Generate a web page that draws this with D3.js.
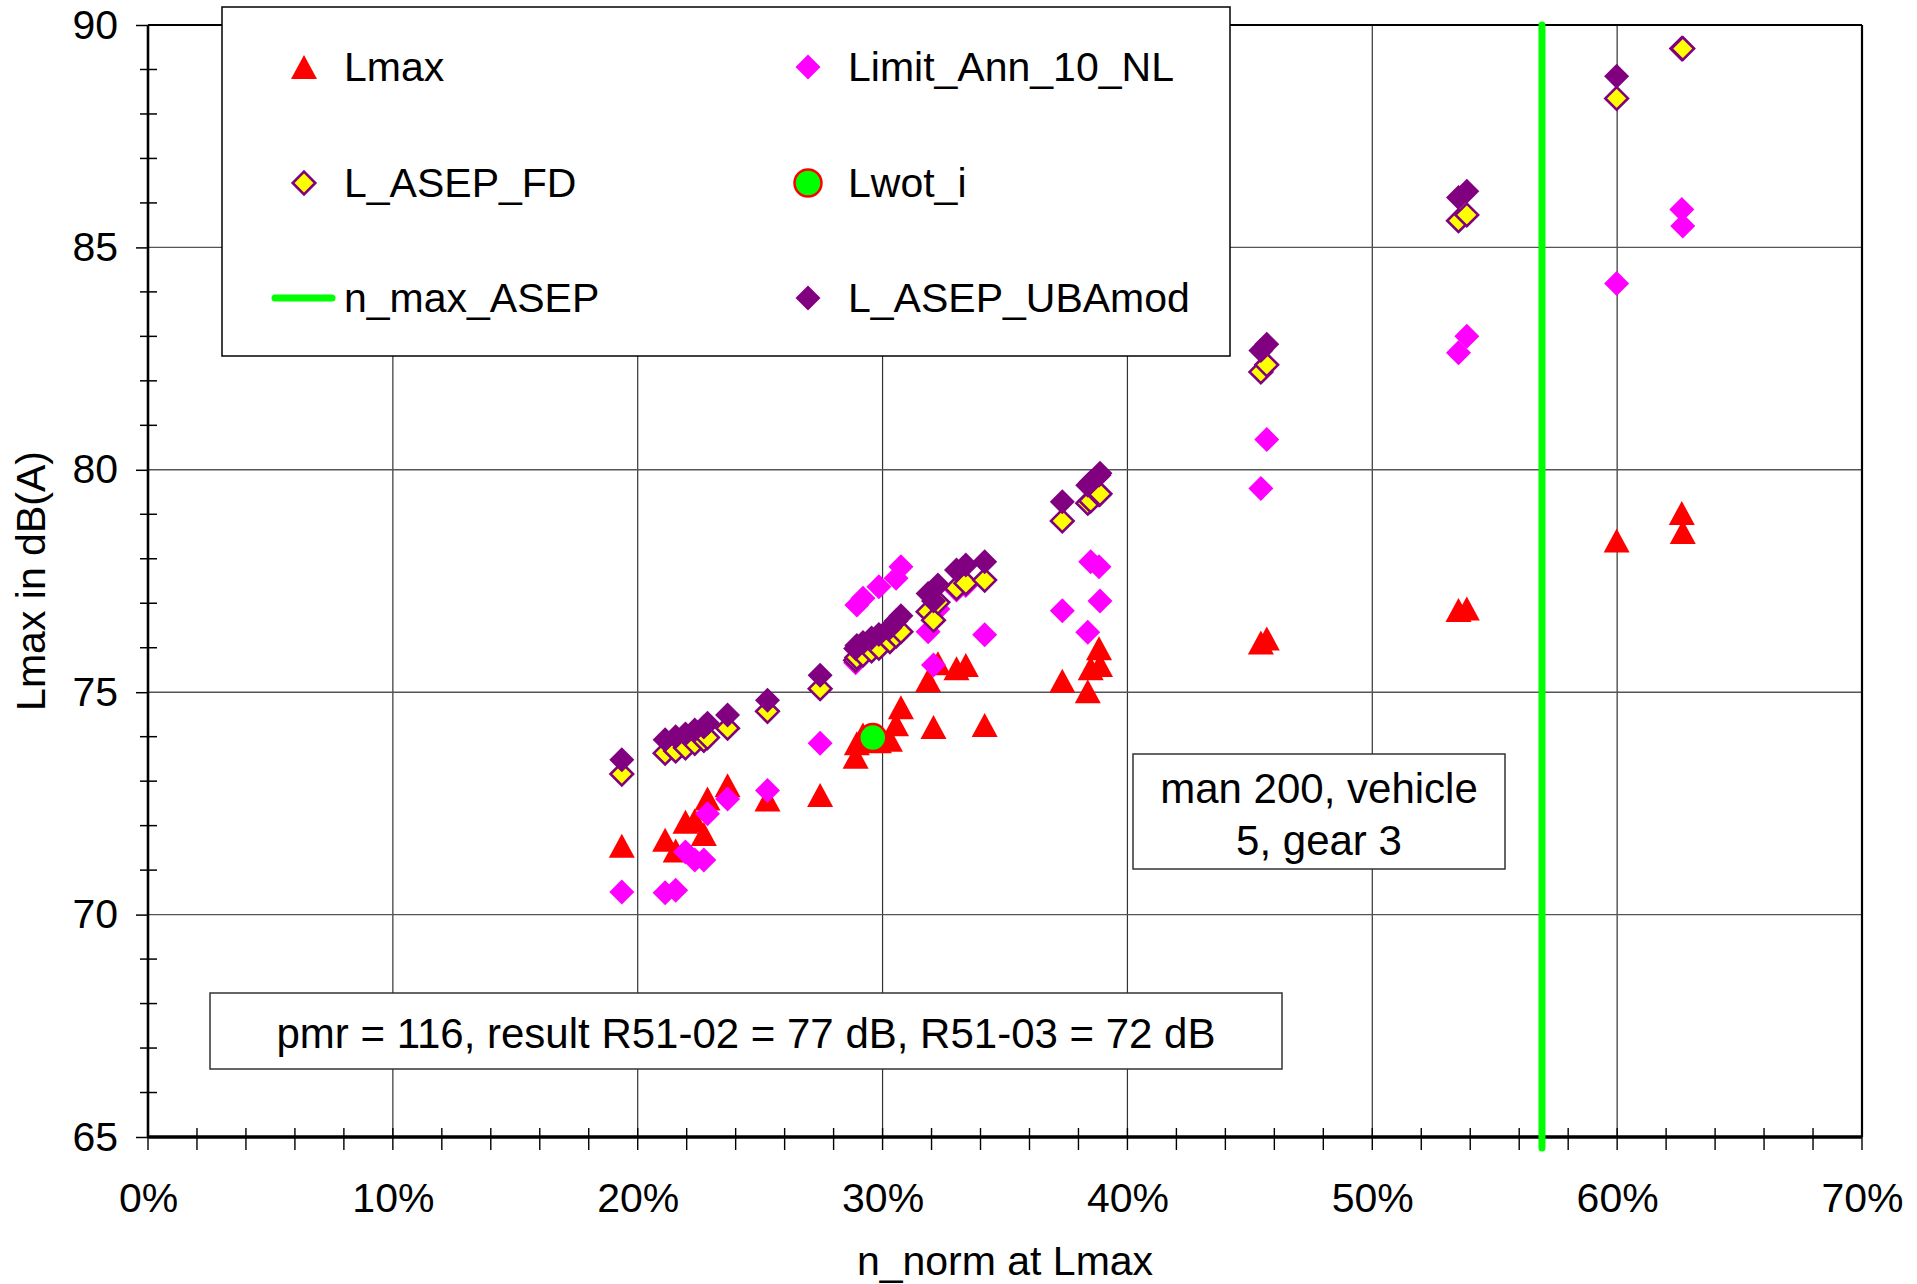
<!DOCTYPE html>
<html>
<head>
    <title>Lmax vs n_norm</title>
    <script src="https://d3js.org/d3.v7.min.js"></script>
    <style>
        body { margin: 0; background: #fff; }
        text { font-family: "Liberation Sans", Arial, sans-serif; }
    </style>
</head>
<body>
    <div id="chart"></div>
    <script>
        // runs: n_norm at Lmax (%), one entry per measurement
        var nNorm = [19.35, 21.12, 21.55, 21.95, 22.33, 22.70, 22.85, 23.67, 25.30, 27.45,
            28.90, 28.95, 29.20, 29.55, 29.85, 30.30, 30.55, 30.75,
            31.86, 32.08, 32.26, 33.02, 33.40, 34.17,
            37.34, 38.38, 38.50, 38.84, 38.88,
            45.45, 45.69, 53.52, 53.86, 59.98, 62.64, 62.68];
        var lmax = [71.55, 71.68, 71.44, 72.09, 72.12, 71.81, 72.61, 72.91, 72.59, 72.69,
            73.55, 73.85, 74.05, 73.95, 73.90, 73.93, 74.28, 74.66,
            75.27, 74.22, 75.65, 75.54, 75.61, 74.26,
            75.26, 75.02, 75.54, 75.99, 75.61,
            76.12, 76.21, 76.85, 76.88, 78.41, 79.03, 78.60];
        var limitAnn10NL = [70.51, 70.49, 70.55, 71.41, 71.23, 71.23, 72.27, 72.60, 72.79, 73.85,
            75.66, 76.96, 77.11, 76.05, 77.37, 76.30, 77.56, 77.82,
            76.36, 75.61, 76.87, 77.30, 77.40, 76.29,
            76.83, 76.35, 77.93, 77.82, 77.05,
            79.58, 80.68, 82.63, 83.00, 84.19, 85.85, 85.48];
        var lAsepFD = [73.16, 73.63, 73.68, 73.75, 73.85, 73.92, 73.98, 74.19, 74.57, 75.08,
            75.72, 75.78, 75.84, 75.93, 75.99, 76.14, 76.26, 76.36,
            76.81, 76.62, 77.02, 77.34, 77.45, 77.52,
            78.85, 79.25, 79.30, 79.44, 79.46,
            82.20, 82.36, 85.60, 85.73, 88.35, 89.47, 89.47];
        var lAsepUBAmod = [73.48, 73.93, 74.00, 74.06, 74.15, 74.22, 74.30, 74.49, 74.82, 75.38,
            75.98, 76.05, 76.12, 76.22, 76.30, 76.45, 76.60, 76.72,
            77.22, 77.05, 77.41, 77.75, 77.86, 77.93,
            79.28, 79.65, 79.72, 79.88, 79.92,
            82.68, 82.82, 86.12, 86.26, 88.85, null, null];

        var lwotN = [29.6];
        var lwotLevel = [73.98];

        var nMaxAsep = 56.93;
        var nMaxLevels = [64.75, 90];

        var xTicks = [0, 10, 20, 30, 40, 50, 60, 70];
        var yTicks = [65, 70, 75, 80, 85, 90];

        var legendNames = ["Lmax", "Limit_Ann_10_NL", "L_ASEP_FD", "Lwot_i", "n_max_ASEP", "L_ASEP_UBAmod"];
        var noteResult = "pmr = 116, result R51-02 = 77 dB, R51-03 = 72 dB";
        var noteVehicle = ["man 200, vehicle", "5, gear 3"];

        var margin = { top: 25, right: 55, bottom: 147, left: 148 },
            width = 1917 - margin.left - margin.right,
            height = 1284 - margin.top - margin.bottom;
        var fontSize = 41;

        var root = d3.select("#chart")
            .append("svg")
            .attr("width", 1917)
            .attr("height", 1284)
            .style("display", "block");

        var svg = root.append("g")
            .attr("transform", "translate(" + margin.left + "," + margin.top + ")");

        var x = d3.scaleLinear().domain([0, 70]).range([0, width]);
        var y = d3.scaleLinear().domain([65, 90]).range([height, 0]);

        // marker shapes (full base width / full height)
        function triangle(w, h) {
            return "M0," + (-h / 2) + "L" + (w / 2) + "," + (h / 2) + "L" + (-w / 2) + "," + (h / 2) + "Z";
        }
        function diamond(r) {
            return "M0," + (-r) + "L" + r + ",0L0," + r + "L" + (-r) + ",0Z";
        }
        var triPath = triangle(26, 24);

        // gridlines
        svg.append("g")
            .selectAll("line")
            .data(xTicks.slice(1, -1))
            .enter().append("line")
            .attr("x1", function (d) { return x(d); })
            .attr("x2", function (d) { return x(d); })
            .attr("y1", 0).attr("y2", height)
            .style("stroke", "#333").style("stroke-width", 1.2);
        svg.append("g")
            .selectAll("line")
            .data(yTicks.slice(1, -1))
            .enter().append("line")
            .attr("y1", function (d) { return y(d); })
            .attr("y2", function (d) { return y(d); })
            .attr("x1", 0).attr("x2", width)
            .style("stroke", "#555").style("stroke-width", 1.4);

        // frame
        svg.append("line").attr("x1", 0).attr("x2", width).attr("y1", 0).attr("y2", 0)
            .style("stroke", "#000").style("stroke-width", 2.2);
        svg.append("line").attr("x1", width).attr("x2", width).attr("y1", 0).attr("y2", height)
            .style("stroke", "#000").style("stroke-width", 2.2);

        // Y axis: major labels + minor ticks every 1 dB
        var yAxis = svg.append("g")
            .call(d3.axisLeft(y).tickValues(yTicks).tickSize(12).tickPadding(18).tickSizeOuter(0));
        yAxis.select(".domain").remove();
        yAxis.selectAll("line").style("stroke", "#000").style("stroke-width", 1.5);
        yAxis.selectAll("text").style("font-size", fontSize + "px").style("fill", "#000");
        svg.append("g")
            .selectAll("line")
            .data(d3.range(65, 91, 1).filter(function (d) { return d % 5 !== 0; }))
            .enter().append("line")
            .attr("x1", -8).attr("x2", 9)
            .attr("y1", function (d) { return y(d); })
            .attr("y2", function (d) { return y(d); })
            .style("stroke", "#000").style("stroke-width", 1.5);
        svg.append("line").attr("x1", 0).attr("x2", 0).attr("y1", 0).attr("y2", height)
            .style("stroke", "#000").style("stroke-width", 2.6);

        // X axis: labels + cross ticks every 2 %
        var xAxis = svg.append("g")
            .attr("transform", "translate(0," + height + ")")
            .call(d3.axisBottom(x).tickValues(xTicks).tickSize(0).tickPadding(46).tickSizeOuter(0)
                .tickFormat(function (d) { return d + "%"; }));
        xAxis.select(".domain").remove();
        xAxis.selectAll("text").style("font-size", fontSize + "px").style("fill", "#000");
        svg.append("g")
            .selectAll("line")
            .data(d3.range(0, 71, 2))
            .enter().append("line")
            .attr("x1", function (d) { return x(d); })
            .attr("x2", function (d) { return x(d); })
            .attr("y1", height - 9).attr("y2", height + 13)
            .style("stroke", "#000").style("stroke-width", 1.4);
        svg.append("line").attr("x1", 0).attr("x2", width).attr("y1", height).attr("y2", height)
            .style("stroke", "#000").style("stroke-width", 3.5);

        // axis titles
        svg.append("text")
            .attr("text-anchor", "middle")
            .attr("x", width / 2)
            .attr("y", height + 138)
            .style("font-size", fontSize + "px")
            .text("n_norm at Lmax");
        svg.append("text")
            .attr("text-anchor", "middle")
            .attr("transform", "rotate(-90)")
            .attr("x", -height / 2)
            .attr("y", -117)
            .attr("dy", "0.35em")
            .style("font-size", fontSize + "px")
            .text("Lmax in dB(A)");

        // n_max_ASEP vertical line
        svg.append("line")
            .attr("x1", x(nMaxAsep)).attr("x2", x(nMaxAsep))
            .attr("y1", y(nMaxLevels[0])).attr("y2", y(nMaxLevels[1]))
            .style("stroke", "#00ff00").style("stroke-width", 7).style("stroke-linecap", "round");

        var runs = nNorm.map(function (n, i) {
            return { n: n, lmax: lmax[i], limit: limitAnn10NL[i], fd: lAsepFD[i], uba: lAsepUBAmod[i] };
        });

        function plotSeries(key, path, fill, stroke, sw) {
            svg.append("g")
                .selectAll("path")
                .data(runs.filter(function (d) { return d[key] != null && d[key] <= 90; }))
                .enter().append("path")
                .attr("transform", function (d) { return "translate(" + x(d.n) + "," + y(d[key]) + ")"; })
                .attr("d", path)
                .style("fill", fill)
                .style("stroke", stroke)
                .style("stroke-width", sw);
        }

        plotSeries("lmax", triPath, "#ff0000", "none", 0);
        plotSeries("limit", diamond(12.5), "#ff00ff", "none", 0);
        plotSeries("fd", diamond(11.3), "#ffff00", "#800080", 2.6);
        plotSeries("uba", diamond(12.5), "#800080", "none", 0);

        // Lwot_i point
        svg.append("g")
            .selectAll("circle")
            .data(lwotN)
            .enter().append("circle")
            .attr("cx", function (d) { return x(d); })
            .attr("cy", function (d, i) { return y(lwotLevel[i]); })
            .attr("r", 13.5)
            .style("fill", "#00ff00")
            .style("stroke", "#ff0000")
            .style("stroke-width", 2.5);

        // legend
        var legend = root.append("g");
        legend.append("rect")
            .attr("x", 222).attr("y", 7).attr("width", 1008).attr("height", 349)
            .style("fill", "#fff").style("stroke", "#000").style("stroke-width", 1.5);
        var rowY = [67, 183, 298];
        var colSym = [304, 808];
        var colText = [344, 848];
        var item = legend.selectAll(".legend")
            .data(legendNames)
            .enter().append("g")
            .attr("class", "legend")
            .attr("transform", function (d, i) { return "translate(0," + rowY[Math.floor(i / 2)] + ")"; });
        item.append("text")
            .attr("x", function (d, i) { return colText[i % 2]; })
            .attr("dy", "0.35em")
            .style("font-size", fontSize + "px")
            .text(function (d) { return d; });
        item.each(function (d, i) {
            var g = d3.select(this), cx = colSym[i % 2];
            if (d === "Lmax") {
                g.append("path").attr("transform", "translate(" + cx + ",0)").attr("d", triPath).style("fill", "#ff0000");
            } else if (d === "Limit_Ann_10_NL") {
                g.append("path").attr("transform", "translate(" + cx + ",0)").attr("d", diamond(12.5)).style("fill", "#ff00ff");
            } else if (d === "L_ASEP_FD") {
                g.append("path").attr("transform", "translate(" + cx + ",0)").attr("d", diamond(11.3))
                    .style("fill", "#ffff00").style("stroke", "#800080").style("stroke-width", 2.6);
            } else if (d === "Lwot_i") {
                g.append("circle").attr("cx", cx).attr("r", 13.5)
                    .style("fill", "#00ff00").style("stroke", "#ff0000").style("stroke-width", 2.5);
            } else if (d === "n_max_ASEP") {
                g.append("line").attr("x1", 275).attr("x2", 332)
                    .style("stroke", "#00ff00").style("stroke-width", 7).style("stroke-linecap", "round");
            } else {
                g.append("path").attr("transform", "translate(" + cx + ",0)").attr("d", diamond(12.5)).style("fill", "#800080");
            }
        });

        // text boxes
        root.append("rect")
            .attr("x", 210).attr("y", 993).attr("width", 1072).attr("height", 76)
            .style("fill", "#fff").style("stroke", "#333").style("stroke-width", 1.5);
        root.append("text")
            .attr("x", 746).attr("y", 1033).attr("dy", "0.35em")
            .attr("text-anchor", "middle")
            .style("font-size", "42px")
            .text(noteResult);

        root.append("rect")
            .attr("x", 1133).attr("y", 754).attr("width", 372).attr("height", 115)
            .style("fill", "#fff").style("stroke", "#333").style("stroke-width", 1.5);
        root.append("g")
            .selectAll("text")
            .data(noteVehicle)
            .enter().append("text")
            .attr("x", 1319)
            .attr("y", function (d, i) { return 788 + i * 52; })
            .attr("dy", "0.35em")
            .attr("text-anchor", "middle")
            .style("font-size", "42px")
            .text(function (d) { return d; });
    </script>
</body>
</html>
